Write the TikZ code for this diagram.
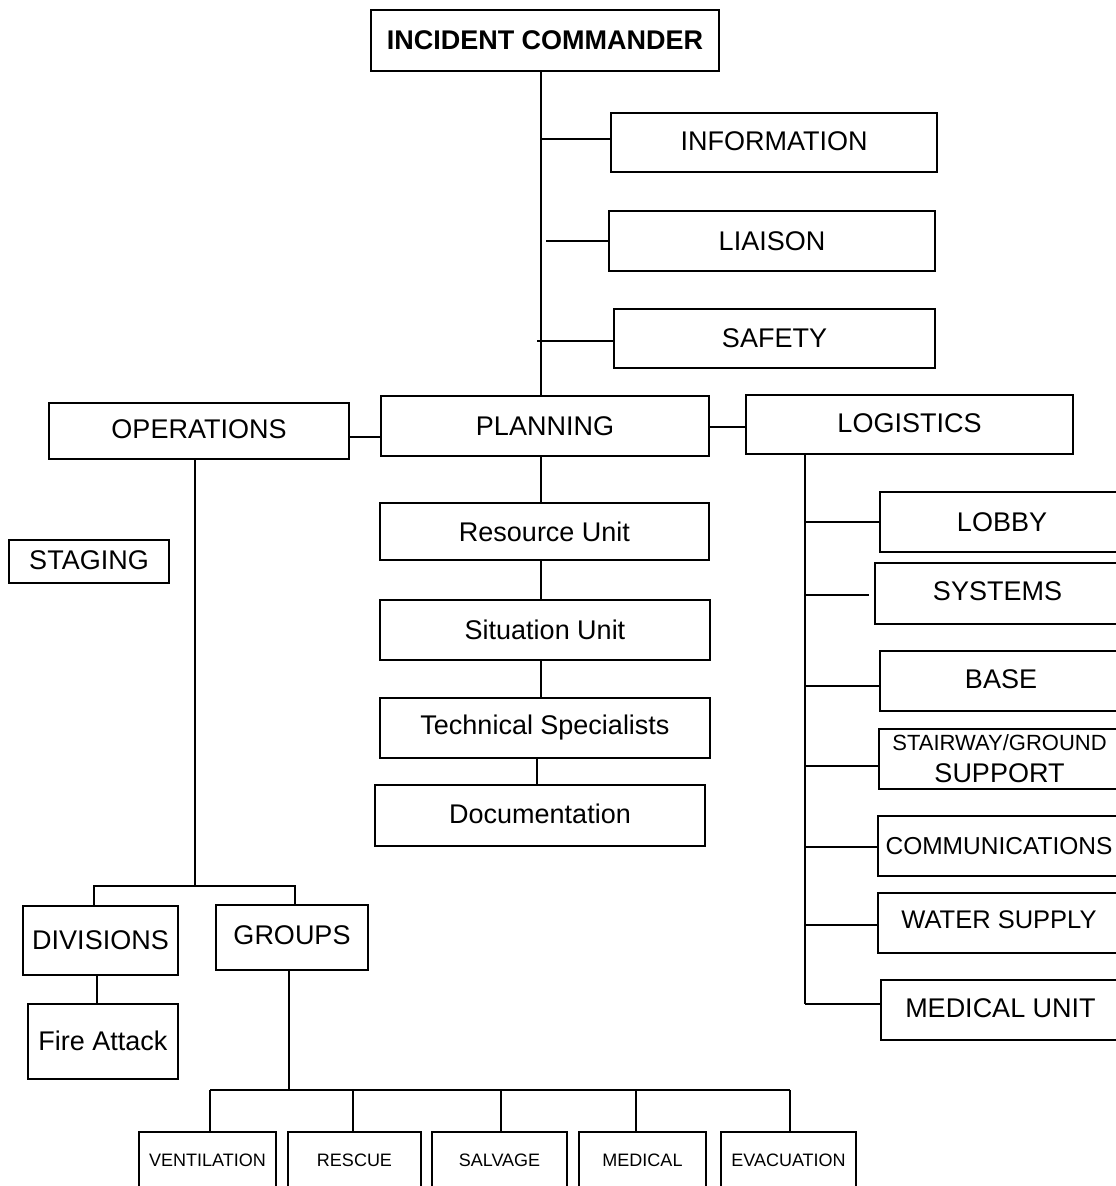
\documentclass[tikz,border=0pt]{standalone}
\usepackage{fontspec}
\setmainfont{Liberation Sans}
\begin{document}
\begin{tikzpicture}[x=1pt,y=-1pt,
  box/.style={draw,line width=2pt,rectangle,inner sep=0pt,font=\fontsize{27}{30}\selectfont},
  small/.style={box,font=\fontsize{18}{20}\selectfont},
  wire/.style={line width=2pt}]
\useasboundingbox (0,0) rectangle (1116,1186);
\clip (0,0) rectangle (1116,1186);
% top
\node[box,minimum width=348,minimum height=61,font=\fontsize{27}{30}\selectfont\bfseries] (ic) at (545,40.5) {INCIDENT COMMANDER};
\node[box,minimum width=326,minimum height=59] (info) at (774,142.5) {\raisebox{3pt}{INFORMATION}};
\node[box,minimum width=326,minimum height=60] (liaison) at (772,241) {LIAISON};
\node[box,minimum width=321,minimum height=59] (safety) at (774.5,338.5) {SAFETY};
% sections
\node[box,minimum width=300,minimum height=56] (ops) at (199,431) {\raisebox{3pt}{OPERATIONS}};
\node[box,minimum width=328,minimum height=60] (plan) at (545,426) {PLANNING};
\node[box,minimum width=327,minimum height=59] (log) at (909.5,424.5) {\raisebox{3pt}{LOGISTICS}};
\node[box,minimum width=160,minimum height=43] (staging) at (89,561.5) {\raisebox{2pt}{STAGING}};
% operations
\node[box,minimum width=155,minimum height=69] (div) at (100.5,940.5) {DIVISIONS};
\node[box,minimum width=152,minimum height=65] (grp) at (292,937.5) {\raisebox{4pt}{GROUPS}};
\node[box,minimum width=150,minimum height=75] (fire) at (103,1041.5) {\raisebox{2pt}{Fire Attack}};
\node[small,minimum width=137,minimum height=56] (vent) at (207.5,1160) {VENTILATION};
\node[small,minimum width=133,minimum height=56] (rescue) at (354.5,1160) {RESCUE};
\node[small,minimum width=135,minimum height=56] (salv) at (499.5,1160) {SALVAGE};
\node[small,minimum width=127,minimum height=56] (med) at (642.5,1160) {MEDICAL};
\node[small,minimum width=135,minimum height=56] (evac) at (788.5,1160) {EVACUATION};
% planning
\node[box,minimum width=329,minimum height=57] (res) at (544.5,531.5) {Resource Unit};
\node[box,minimum width=330,minimum height=60] (sit) at (545,630) {Situation Unit};
\node[box,minimum width=330,minimum height=60] (tech) at (545,728) {\raisebox{3pt}{Technical Specialists}};
\node[box,minimum width=330,minimum height=61] (doc) at (540,815.5) {\raisebox{3pt}{Documentation}};
% logistics
\node[box,minimum width=244,minimum height=60] (lobby) at (1002,522) {LOBBY};
\node[box,minimum width=245,minimum height=61] (sys) at (997.5,593.5) {\raisebox{4pt}{SYSTEMS}};
\node[box,minimum width=242,minimum height=60] (base) at (1001,681) {\raisebox{3pt}{BASE}};
\node[box,minimum width=241,minimum height=60,align=center] (stair) at (999.5,759) {{\fontsize{22}{22}\selectfont STAIRWAY/GROUND}\\[2pt]SUPPORT};
\node[box,minimum width=242,minimum height=60,font=\fontsize{24.5}{27}\selectfont] (comm) at (999,846) {COMMUNICATIONS};
\node[box,minimum width=242,minimum height=60,font=\fontsize{25.5}{27}\selectfont] (water) at (999,923) {\raisebox{6pt}{WATER SUPPLY}};
\node[box,minimum width=239,minimum height=60] (medu) at (1000.5,1010) {\raisebox{3pt}{MEDICAL UNIT}};
% connectors
\coordinate (tx) at (541,0);
\draw[wire] (tx |- ic.south) -- (tx |- plan.north);
\draw[wire] ([yshift=3.5pt]tx |- info.west) -- ([yshift=3.5pt]info.west);
\draw[wire] ([xshift=5pt]tx |- liaison.west) -- (liaison.west);
\draw[wire] ([xshift=-4pt,yshift=-2.5pt]tx |- safety.west) -- ([yshift=-2.5pt]safety.west);
\draw[wire] ([yshift=-6pt]ops.east) -- ([yshift=-6pt]ops.east -| plan.west);
\draw[wire] ([yshift=-1pt]plan.east) -- ([yshift=-1pt]plan.east -| log.west);
% operations tree
\coordinate (oj) at (195,886);
\draw[wire] (oj |- ops.south) -- (oj);
\draw[wire] ([xshift=-7pt]div.north) |- (oj) -| ([xshift=3pt]grp.north);
\draw[wire] ([xshift=-3.5pt]div.south) -- ([xshift=-3.5pt]div.south |- fire.north);
\coordinate (gj) at (289,1090);
\draw[wire] (gj |- grp.south) -- (gj);
\draw[wire] ([xshift=2.5pt]vent.north |- gj) -- ([xshift=1.5pt]evac.north |- gj);
\draw[wire] ([xshift=2.5pt]vent.north) -- ([xshift=2.5pt]vent.north |- gj);
\draw[wire] ([xshift=-1.5pt]rescue.north) -- ([xshift=-1.5pt]rescue.north |- gj);
\draw[wire] ([xshift=1.5pt]salv.north) -- ([xshift=1.5pt]salv.north |- gj);
\draw[wire] ([xshift=-6.5pt]med.north) -- ([xshift=-6.5pt]med.north |- gj);
\draw[wire] ([xshift=1.5pt]evac.north) -- ([xshift=1.5pt]evac.north |- gj);
% planning chain
\draw[wire] ([xshift=-4pt]plan.south) -- ([xshift=-4pt]plan.south |- res.north);
\draw[wire] ([xshift=-4pt]res.south) -- ([xshift=-4pt]res.south |- sit.north);
\draw[wire] ([xshift=-4pt]sit.south) -- ([xshift=-4pt]sit.south |- tech.north);
\draw[wire] ([xshift=-8pt]tech.south) -- ([xshift=-8pt]tech.south |- doc.north);
% logistics tree
\coordinate (lx) at (805,0);
\draw[wire] (lx |- log.south) -- ([yshift=6pt]lx |- medu.west);
\draw[wire] (lx |- lobby.west) -- (lobby.west);
\draw[wire] ([yshift=-1.5pt]lx |- sys.west) -- ([xshift=-5pt,yshift=-1.5pt]sys.west);
\draw[wire] ([yshift=-5pt]lx |- base.west) -- ([yshift=-5pt]base.west);
\draw[wire] ([yshift=-7pt]lx |- stair.west) -- ([yshift=-7pt]stair.west);
\draw[wire] ([yshift=-1pt]lx |- comm.west) -- ([yshift=-1pt]comm.west);
\draw[wire] ([yshift=-2pt]lx |- water.west) -- ([yshift=-2pt]water.west);
\draw[wire] ([yshift=6pt]lx |- medu.west) -- ([yshift=6pt]medu.west);
\end{tikzpicture}
\end{document}
